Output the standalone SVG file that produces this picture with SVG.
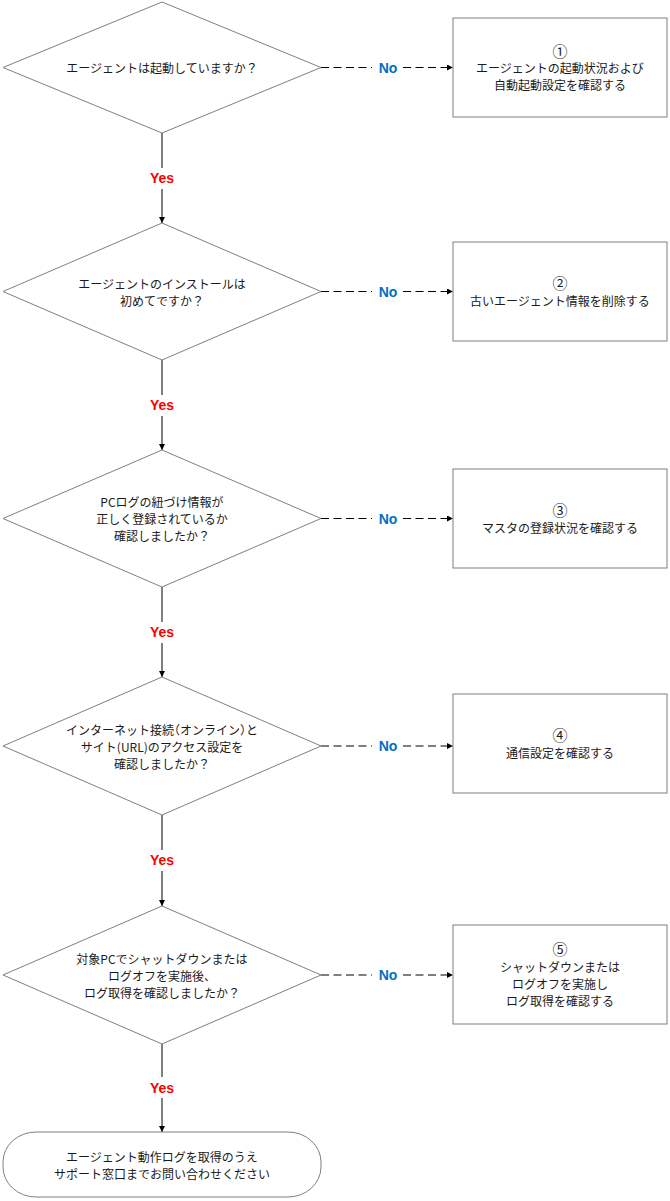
<svg xmlns="http://www.w3.org/2000/svg" width="670" height="1201" viewBox="0 0 670 1201">
<style>
.shape{fill:#fff;stroke:#7f7f7f;stroke-width:1}
.t{font-family:"Noto Sans CJK JP","Noto Sans",sans-serif;font-size:12px;fill:#1a1a1a;text-anchor:middle;dominant-baseline:central}
.n{font-size:15px}
.h{font-feature-settings:"halt"}
.yes{font-family:"Liberation Sans",Arial,sans-serif;font-size:14px;font-weight:bold;fill:#ff0000;text-anchor:middle;dominant-baseline:central}
.no{font-family:"Liberation Sans",Arial,sans-serif;font-size:14px;font-weight:bold;fill:#0070c0;text-anchor:middle;dominant-baseline:central}
.c{stroke:#000;stroke-width:1;fill:none}
.d{stroke:#000;stroke-width:1.2;fill:none;stroke-dasharray:8 4.5}
</style>
<defs>
<marker id="ah" viewBox="0 0 6 6" refX="6" refY="3" markerWidth="6" markerHeight="6" markerUnits="userSpaceOnUse" orient="auto">
<path d="M0,0 L6,3 L0,6 Z" fill="#000"/>
</marker>
</defs>
<rect width="670" height="1201" fill="#fff"/>
<g id="connectors">
<line class="c" x1="162" y1="133" x2="162" y2="168"/>
<line class="c" x1="162" y1="189" x2="162" y2="223" marker-end="url(#ah)"/>
<text class="yes" x="162" y="178">Yes</text>
<line class="c" x1="162" y1="360" x2="162" y2="395"/>
<line class="c" x1="162" y1="416" x2="162" y2="450" marker-end="url(#ah)"/>
<text class="yes" x="162" y="405">Yes</text>
<line class="c" x1="162" y1="587" x2="162" y2="622"/>
<line class="c" x1="162" y1="643" x2="162" y2="677" marker-end="url(#ah)"/>
<text class="yes" x="162" y="632">Yes</text>
<line class="c" x1="162" y1="815" x2="162" y2="850"/>
<line class="c" x1="162" y1="871" x2="162" y2="906" marker-end="url(#ah)"/>
<text class="yes" x="162" y="860">Yes</text>
<line class="c" x1="162" y1="1044" x2="162" y2="1077"/>
<line class="c" x1="162" y1="1098" x2="162" y2="1132" marker-end="url(#ah)"/>
<text class="yes" x="162" y="1088">Yes</text>

<line class="d" x1="321" y1="67.5" x2="372" y2="67.5"/>
<line class="d" x1="403" y1="67.5" x2="453" y2="67.5" marker-end="url(#ah)"/>
<text class="no" x="388" y="67.5">No</text>
<line class="d" x1="321" y1="291.5" x2="372" y2="291.5"/>
<line class="d" x1="403" y1="291.5" x2="453" y2="291.5" marker-end="url(#ah)"/>
<text class="no" x="388" y="291.5">No</text>
<line class="d" x1="321" y1="518.5" x2="372" y2="518.5"/>
<line class="d" x1="403" y1="518.5" x2="453" y2="518.5" marker-end="url(#ah)"/>
<text class="no" x="388" y="518.5">No</text>
<line class="d" x1="321" y1="746" x2="372" y2="746"/>
<line class="d" x1="403" y1="746" x2="453" y2="746" marker-end="url(#ah)"/>
<text class="no" x="388" y="746">No</text>
<line class="d" x1="321" y1="975" x2="372" y2="975"/>
<line class="d" x1="403" y1="975" x2="453" y2="975" marker-end="url(#ah)"/>
<text class="no" x="388" y="975">No</text>
</g>

<g id="q1">
<polygon class="shape" points="162,2 321,67.5 162,133 3,67.5"/>
<text class="t" x="162" y="67.5">エージェントは起動していますか？</text>
</g>
<g id="a1">
<rect class="shape" x="453" y="18" width="214" height="99"/>
<text class="t n" x="560" y="50">①</text>
<text class="t" x="560" y="67.5">エージェントの起動状況および</text>
<text class="t" x="560" y="84.5">自動起動設定を確認する</text>
</g>

<g id="q2">
<polygon class="shape" points="162,223 321,291.5 162,360 3,291.5"/>
<text class="t" x="162" y="283">エージェントのインストールは</text>
<text class="t" x="162" y="300">初めてですか？</text>
</g>
<g id="a2">
<rect class="shape" x="453" y="242" width="214" height="99"/>
<text class="t n" x="560" y="282.5">②</text>
<text class="t" x="560" y="300">古いエージェント情報を削除する</text>
</g>

<g id="q3">
<polygon class="shape" points="162,450 321,518.5 162,587 3,518.5"/>
<text class="t" x="162" y="501.5">PCログの紐づけ情報が</text>
<text class="t" x="162" y="518.5">正しく登録されているか</text>
<text class="t" x="162" y="535.5">確認しましたか？</text>
</g>
<g id="a3">
<rect class="shape" x="453" y="469" width="214" height="99"/>
<text class="t n" x="560" y="509.5">③</text>
<text class="t" x="560" y="527">マスタの登録状況を確認する</text>
</g>

<g id="q4">
<polygon class="shape" points="162,677 321,746 162,815 3,746"/>
<text class="t h" x="162" y="729">インターネット接続（オンライン）と</text>
<text class="t" x="162" y="746">サイト(URL)のアクセス設定を</text>
<text class="t" x="162" y="763">確認しましたか？</text>
</g>
<g id="a4">
<rect class="shape" x="453" y="694" width="214" height="99"/>
<text class="t n" x="560" y="734.5">④</text>
<text class="t" x="560" y="752">通信設定を確認する</text>
</g>

<g id="q5">
<polygon class="shape" points="162,906 321,975 162,1044 3,975"/>
<text class="t" x="162" y="958">対象PCでシャットダウンまたは</text>
<text class="t" x="162" y="975">ログオフを実施後、</text>
<text class="t" x="162" y="992">ログ取得を確認しましたか？</text>
</g>
<g id="a5">
<rect class="shape" x="453" y="925" width="214" height="99"/>
<text class="t n" x="560" y="948.5">⑤</text>
<text class="t" x="560" y="966">シャットダウンまたは</text>
<text class="t" x="560" y="983">ログオフを実施し</text>
<text class="t" x="560" y="1000">ログ取得を確認する</text>
</g>

<g id="end">
<rect class="shape" x="3" y="1132" width="318" height="65" rx="33" ry="30"/>
<text class="t" x="162" y="1156">エージェント動作ログを取得のうえ</text>
<text class="t" x="162" y="1173">サポート窓口までお問い合わせください</text>
</g>
</svg>
